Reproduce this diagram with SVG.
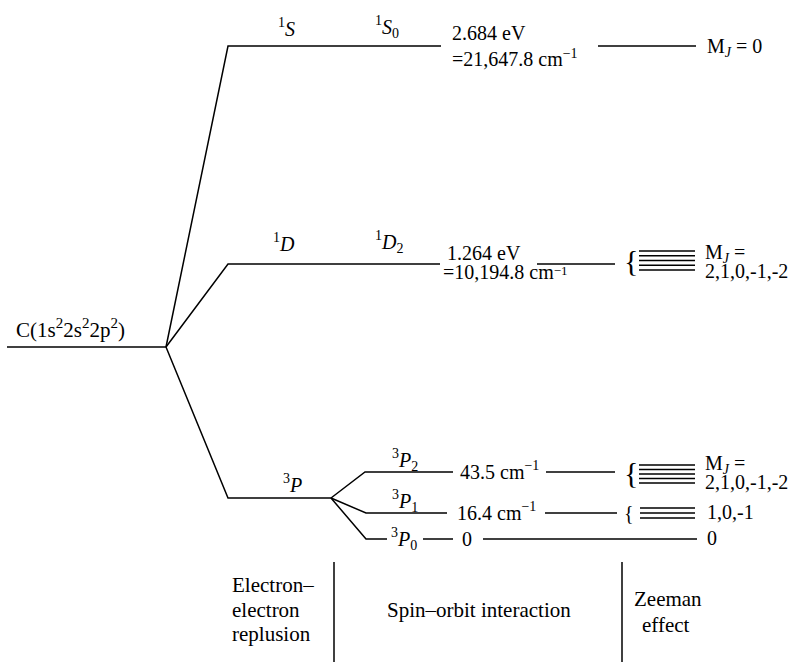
<svg xmlns="http://www.w3.org/2000/svg" width="797" height="662" viewBox="0 0 797 662">
<style>
text{font-family:'Liberation Serif','DejaVu Serif','Times New Roman',serif;font-size:20px;fill:#000}
.i{font-style:italic}
.s{font-size:14px}
.b{font-size:21px}
.ln{stroke:#000;stroke-width:1.5;fill:none}
</style>
<rect width="797" height="662" fill="#fff"/>
<g id="connectors" class="ln">
<path d="M7 347H166"/>
<path d="M166 347L228 46H441"/>
<path d="M166 347L228 264H440"/>
<path d="M166 347L228 498H331"/>
<path d="M331 498L365 472H453"/>
<path d="M331 498L366 513H447"/>
<path d="M331 498L366 539H387"/>
<path d="M598 46H696"/>
<path d="M537 264H615"/>
<path d="M546 472H615"/>
<path d="M545 513H617"/>
<path d="M423 539H453"/>
<path d="M483 539H697"/>
<path d="M334 562V662"/>
<path d="M622 562V662"/>
</g>
<g id="root">
<text x="16" class="b"><tspan y="337">C(1s</tspan><tspan style="font-size:15px" y="328">2</tspan><tspan y="337">2s</tspan><tspan style="font-size:15px" y="328">2</tspan><tspan y="337">2p</tspan><tspan style="font-size:15px" y="328">2</tspan><tspan y="337">)</tspan></text>
</g>
<g id="term-1S">
<text x="278"><tspan class="s" y="27">1</tspan><tspan class="i" y="36">S</tspan></text>
</g>
<g id="level-1S0">
<text x="375"><tspan class="s" y="25">1</tspan><tspan class="i" y="34">S</tspan><tspan class="s" y="38">0</tspan></text>
<text x="452" y="40">2.684 eV</text>
<text x="452"><tspan y="66">=21,647.8 cm</tspan><tspan class="s" y="58">−1</tspan></text>
</g>
<g id="zeeman-1S0">
<text x="707"><tspan y="53">M</tspan><tspan class="s i" y="57">J</tspan><tspan y="53"> = 0</tspan></text>
</g>
<g id="term-1D">
<text x="273"><tspan class="s" y="242">1</tspan><tspan class="i" y="251">D</tspan></text>
</g>
<g id="level-1D2">
<text x="375"><tspan class="s" y="240">1</tspan><tspan class="i" y="249">D</tspan><tspan class="s" y="253">2</tspan></text>
<text x="447" y="260">1.264 eV</text>
<text x="443"><tspan y="279">=10,194.8 cm</tspan><tspan style="font-size:13px" y="275">−1</tspan></text>
</g>
<g id="zeeman-1D2">
<text x="624" y="271" style="font-size:30px">{</text>
<g class="ln"><path d="M639 251H695M639 255.75H695M639 260.5H695M639 265.25H695M639 270H695"/></g>
<text x="705"><tspan y="259">M</tspan><tspan class="s i" y="263">J</tspan><tspan y="259"> =</tspan></text>
<text x="705" y="278">2,1,0,-1,-2</text>
</g>
<g id="term-3P">
<text x="283"><tspan class="s" y="483">3</tspan><tspan class="i" y="492">P</tspan></text>
</g>
<g id="level-3P2">
<text x="392"><tspan class="s" y="458">3</tspan><tspan class="i" y="467">P</tspan><tspan class="s" y="471">2</tspan></text>
<text x="460"><tspan y="479">43.5 cm</tspan><tspan class="s" y="470">−1</tspan></text>
</g>
<g id="zeeman-3P2">
<text x="624" y="483" style="font-size:30px">{</text>
<g class="ln"><path d="M639 465H695M639 469.5H695M639 474H695M639 478.5H695M639 483H695"/></g>
<text x="705"><tspan y="470">M</tspan><tspan class="s i" y="474">J</tspan><tspan y="470"> =</tspan></text>
<text x="705" y="489">2,1,0,-1,-2</text>
</g>
<g id="level-3P1">
<text x="392"><tspan class="s" y="499">3</tspan><tspan class="i" y="508">P</tspan><tspan class="s" y="512">1</tspan></text>
<text x="457"><tspan y="520">16.4 cm</tspan><tspan class="s" y="511">−1</tspan></text>
</g>
<g id="zeeman-3P1">
<text x="624" y="520">{</text>
<g class="ln"><path d="M640 508H695M640 513H695M640 518H695"/></g>
<text x="707" y="519">1,0,-1</text>
</g>
<g id="level-3P0">
<text x="391"><tspan class="s" y="537">3</tspan><tspan class="i" y="546">P</tspan><tspan class="s" y="550">0</tspan></text>
<text x="462" y="546">0</text>
<text x="707" y="545">0</text>
</g>
<g id="labels">
<text class="b" x="232" y="592">Electron–</text>
<text class="b" x="232" y="617">electron</text>
<text class="b" x="232" y="641">replusion</text>
<text class="b" x="387" y="617">Spin–orbit interaction</text>
<text class="b" x="634" y="606">Zeeman</text>
<text class="b" x="642" y="632">effect</text>
</g>
</svg>
